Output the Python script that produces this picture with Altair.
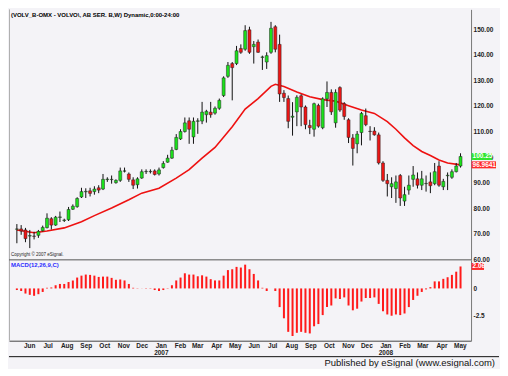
import altair as alt
import pandas as pd

TITLE = "(VOLV_B-OMX - VOLVO\\, AB SER. B,W) Dynamic,0:00-24:00"
COPYRIGHT = "Copyright \u00a9 2007 eSignal."
MACD_LABEL = "MACD(12,26,9,C)"
FOOTER = "Published by eSignal (www.esignal.com)"

first_week = "2006-05-12"

opens = [71.8, 71.9, 71.5, 69.1, 69.1, 69.4, 71.2, 72.4, 75.9, 73.4,
         76.4, 75.2, 75.5, 79.6, 80.6, 84.4, 86.4, 86.8, 86.5, 88.0,
         87.5, 91.2, 91.2, 90.0, 90.9, 94.5, 93.4, 91.1, 89.2, 91.8,
         94.3, 94.3, 94.6, 93.4, 95.9, 98.0, 99.6, 103.0, 107.1, 110.0,
         114.2, 107.9, 114.0, 114.1, 116.6, 117.6, 117.2, 119.1, 124.1, 131.6,
         136.6, 136.6, 142.5, 142.2, 149.8, 143.2, 145.0, 139.0, 137.2, 141.0,
         151.0, 144.1, 125.0, 122.9, 115.6, 117.7, 124.0, 119.6, 112.4, 110.9,
         120.2, 111.5, 122.8, 125.3, 113.4, 127.2, 120.9, 114.6, 107.5, 105.2,
         109.6, 116.2, 110.1, 110.2, 108.7, 97.7, 90.9, 88.4, 87.7, 92.8,
         82.8, 87.1, 91.3, 91.5, 89.0, 89.6, 90.3, 89.6, 96.5, 88.4,
         92.7, 92.1, 94.3, 96.5]
highs = [73.8, 73.4, 72.3, 71.5, 70.8, 71.5, 73.2, 78.0, 76.5, 77.0,
         78.7, 75.9, 80.5, 81.5, 84.3, 88.0, 87.8, 88.0, 88.6, 89.0,
         93.4, 92.1, 92.8, 91.3, 95.9, 95.9, 94.0, 92.1, 92.1, 95.2,
         95.2, 95.2, 95.2, 95.9, 98.4, 100.9, 104.0, 109.0, 110.9, 115.5,
         115.5, 115.5, 115.2, 121.6, 118.5, 121.6, 119.8, 122.9, 131.6, 137.2,
         137.2, 143.5, 144.1, 151.6, 151.0, 145.4, 146.0, 139.7, 141.0, 152.9,
         151.6, 147.9, 126.2, 124.1, 121.5, 124.2, 124.6, 120.2, 114.6, 121.3,
         120.9, 123.4, 129.6, 126.5, 126.5, 127.7, 121.5, 115.2, 109.0, 110.2,
         117.7, 119.0, 112.1, 111.7, 109.6, 98.4, 93.4, 92.1, 92.8, 93.4,
         88.4, 92.8, 96.5, 94.0, 94.6, 92.8, 94.0, 97.7, 98.4, 91.5,
         94.0, 95.2, 97.7, 101.5]
lows = [66.3, 69.6, 66.7, 64.4, 67.8, 68.4, 70.9, 72.1, 71.7, 73.1,
        74.6, 74.6, 75.0, 79.3, 80.2, 84.0, 84.0, 84.6, 85.3, 85.9,
        87.1, 90.3, 89.6, 89.6, 90.3, 94.0, 90.3, 87.5, 87.7, 91.5,
        93.4, 93.6, 92.8, 92.8, 95.5, 97.8, 99.3, 102.7, 106.7, 109.6,
        105.2, 105.2, 109.1, 112.9, 113.5, 115.4, 116.6, 118.5, 123.5, 131.0,
        122.2, 136.0, 140.4, 141.6, 140.4, 136.6, 140.8, 134.1, 134.5, 140.4,
        141.0, 121.6, 121.6, 111.3, 108.4, 112.1, 112.1, 110.9, 109.0, 108.0,
        111.5, 110.9, 119.6, 116.5, 111.5, 117.7, 114.6, 105.5, 96.7, 101.5,
        104.6, 112.1, 106.5, 108.4, 97.1, 90.3, 84.6, 84.0, 82.1, 80.9,
        80.9, 85.3, 88.4, 87.7, 87.1, 86.5, 85.9, 89.0, 88.4, 87.1,
        87.1, 91.5, 94.0, 95.9]
closes = [71.9, 71.1, 68.1, 69.3, 69.0, 70.9, 72.5, 76.1, 73.4, 76.5,
          76.6, 75.4, 79.5, 80.8, 83.8, 86.5, 86.6, 85.8, 87.5, 87.1,
          91.3, 91.4, 91.3, 90.9, 94.6, 94.6, 91.3, 89.0, 91.5, 94.3,
          94.4, 94.4, 93.2, 95.0, 97.5, 99.6, 102.7, 107.7, 110.0, 113.4,
          110.9, 114.0, 114.2, 117.6, 117.9, 116.6, 119.1, 122.2, 131.0, 135.9,
          135.0, 141.6, 141.0, 149.5, 141.0, 144.1, 141.0, 139.2, 139.7, 150.4,
          142.2, 124.7, 123.3, 114.0, 116.0, 123.4, 119.6, 112.7, 111.5, 120.9,
          112.1, 122.8, 125.3, 117.7, 125.3, 118.4, 115.9, 107.7, 103.4, 109.0,
          117.1, 112.7, 110.0, 108.7, 97.7, 90.9, 89.6, 89.6, 90.3, 84.0,
          85.3, 89.0, 93.0, 89.0, 91.5, 89.7, 88.8, 94.3, 89.0, 90.5,
          92.9, 94.3, 96.5, 100.25]
macd = [-0.15, -0.24, -0.48, -0.6, -0.69, -0.54, -0.33, 0.06, 0.09, 0.3,
        0.42, 0.42, 0.6, 0.75, 1.02, 1.2, 1.3, 1.27, 1.2, 1.08,
        1.11, 1.11, 0.99, 0.81, 0.84, 0.75, 0.42, 0.06, 0.02, 0.01,
        -0.03, -0.03, -0.15, -0.24, -0.15, 0.03, 0.3, 0.75, 1.02, 1.42,
        1.3, 1.3, 1.14, 1.23, 1.11, 0.87, 0.75, 0.75, 1.2, 1.72,
        1.8, 2.02, 1.96, 2.23, 1.8, 1.36, 0.75, 0.06, -0.24, 0.0,
        -0.24, -1.75, -2.8, -4.07, -4.46, -4.16, -4.07, -4.16, -4.22, -3.55,
        -3.34, -2.5, -1.75, -1.6, -0.93, -0.99, -0.84, -1.6, -2.05, -1.9,
        -1.23, -0.9, -0.9, -0.84, -1.45, -2.14, -2.44, -2.56, -2.44, -2.5,
        -2.35, -1.75, -1.08, -0.69, -0.33, -0.09, 0.12, 0.66, 0.66, 0.9,
        1.05, 1.27, 1.57, 2.06]

# moving average read at selected weeks (week index, value)
ma_week = [0, 4, 7, 11, 15, 18, 22, 26, 29, 33, 37, 40, 43, 46, 50, 53, 56, 59, 60,
           62, 65, 68, 71, 74, 77, 80, 83, 86, 88, 90, 92, 94, 96, 98, 100, 103]
ma_value = [71.5, 70.4, 71.1, 72.3, 74.7, 77.1, 80.1, 83.3, 85.9, 87.8, 91.8, 95.1,
            99.6, 103.8, 111.9, 118.8, 122.9, 127.7, 128.5, 127.6, 125.5, 123.6,
            122.5, 121.9, 120.1, 118.4, 117.1, 113.9, 110.9, 107.5, 104.5, 102.2,
            100.6, 98.9, 97.7, 96.96]

months = [(2006, m) for m in range(6, 13)] + [(2007, m) for m in range(1, 13)] + [(2008, m) for m in range(1, 6)]
price_ticks = [60, 70, 80, 90, 100, 110, 120, 130, 140, 150]
macd_ticks = [0, -2.5]
last_price = ["100.25"]
last_price_val = [100.25]
last_ma = ["96.9641043"]
last_ma_val = [96.9641043]
last_macd = ["2.06"]
last_macd_val = [2.06]

W = 463
H1 = 251
H2 = 81
BG = "#f4f3f7"
FONT = "Liberation Sans, Arial, sans-serif"
GREEN = "#1be01b"
RED = "#ee1515"

dates = pd.date_range(first_week, periods=len(closes), freq="7D").strftime("%Y-%m-%d").tolist()
df = pd.DataFrame({"date": dates, "open": opens, "high": highs, "low": lows,
                   "close": closes, "macd": macd})
ma_df = pd.DataFrame({"date": [dates[i] for i in ma_week], "ma": ma_value})

xs = alt.Scale(type="utc", domain=[alt.DateTime(year=2006, month=5, date=7, hours=8, utc=True),
                                   alt.DateTime(year=2008, month=5, date=11, utc=True)])
yp = alt.Scale(domain=[59.8, 157.8], nice=False, zero=False)
ym = alt.Scale(domain=[-4.9, 2.68], nice=False, zero=False)

one = pd.DataFrame({"k": [0]})


def paxis():
    return alt.Axis(orient="right", values=price_ticks, format=".2f", title=None,
                    ticks=False, grid=False, domainColor="#777", labelPadding=2,
                    labelFont=FONT, labelFontSize=6.5, labelFontWeight="bold",
                    labelColor="#222", labelFlush=False, labelOverlap=False)


def maxis():
    return alt.Axis(orient="right", values=macd_ticks, labelExpr="'' + datum.value",
                    title=None, ticks=False, grid=False, domainColor="#777", labelPadding=2,
                    labelFont=FONT, labelFontSize=6.5, labelFontWeight="bold",
                    labelColor="#222", labelFlush=False, labelOverlap=False)


wicks = alt.Chart(df).mark_rule(color="#111", strokeWidth=1).encode(
    x=alt.X("date:T", scale=xs, axis=None),
    y=alt.Y("low:Q", scale=yp, axis=paxis()),
    y2="high:Q",
)
bodies = alt.Chart(df).transform_calculate(
    up="datum.close >= datum.open ? 'up' : 'down'"
).mark_bar(width=3, stroke="#222", strokeWidth=0.5).encode(
    x=alt.X("date:T", scale=xs, axis=None),
    y=alt.Y("open:Q", scale=yp, axis=paxis()),
    y2="close:Q",
    color=alt.Color("up:N", scale=alt.Scale(domain=["up", "down"], range=[GREEN, RED]), legend=None),
)
ma_line = alt.Chart(ma_df).mark_line(color="#ee1111", strokeWidth=1.6).encode(
    x=alt.X("date:T", scale=xs, axis=None),
    y=alt.Y("ma:Q", scale=yp, axis=paxis()),
)
title_txt = alt.Chart(pd.DataFrame({"t": [TITLE]})).mark_text(
    align="left", baseline="middle", font=FONT, fontSize=6, fontWeight="bold", color="#000"
).encode(x=alt.value(2), y=alt.value(6), text="t:N")
copy_txt = alt.Chart(pd.DataFrame({"t": [COPYRIGHT]})).mark_text(
    align="left", baseline="middle", font=FONT, fontSize=4.5, color="#222"
).encode(x=alt.value(2), y=alt.value(246), text="t:N")
left_edge1 = alt.Chart(one).mark_rule(color="#b0b0b0").encode(
    x=alt.value(0.5), y=alt.value(0), y2=alt.value(H1))

lp = pd.DataFrame({"v": last_price_val, "t": last_price})
lp_box = alt.Chart(lp).mark_rule(color="#2ee62e", strokeWidth=7).encode(
    x=alt.value(W + 0.5), x2=alt.value(W + 21), y=alt.Y("v:Q", scale=yp, axis=paxis()))
lp_txt = alt.Chart(lp).mark_text(align="left", baseline="middle", font=FONT, fontSize=6.5,
                                 fontWeight="bold", color="#ffffff").encode(
    x=alt.value(W + 1.5), y=alt.Y("v:Q", scale=yp, axis=paxis()), text="t:N")
lm = pd.DataFrame({"v": last_ma_val, "t": last_ma})
lm_box = alt.Chart(lm).mark_rule(color="#ff2a2a", strokeWidth=7).encode(
    x=alt.value(W + 0.5), x2=alt.value(492 - 4), y=alt.Y("v:Q", scale=yp, axis=paxis()))
lm_txt = alt.Chart(lm).mark_text(align="left", baseline="middle", font=FONT, fontSize=6.5,
                                 fontWeight="bold", color="#ffffff", limit=26,
                                 ellipsis="\u200b").encode(
    x=alt.value(W + 1.5), y=alt.Y("v:Q", scale=yp, axis=paxis()), text="t:N")

top = alt.layer(left_edge1, ma_line, wicks, bodies, title_txt, copy_txt,
                lp_box, lp_txt, lm_box, lm_txt).properties(width=W, height=H1)

x_axis = alt.Axis(
    orient="bottom", title=None, ticks=False, grid=False, domainColor="#444",
    values=[alt.DateTime(year=y, month=m, date=1, utc=True) for (y, m) in months],
    labelExpr="utcmonth(datum.value) == 0 ? [utcFormat(datum.value, '%b'), utcFormat(datum.value, '%Y')] : utcFormat(datum.value, '%b')",
    labelFont=FONT, labelFontSize=6.5, labelFontWeight="bold", labelColor="#222",
    labelPadding=2, labelLineHeight=7, labelFlush=False, labelOverlap=False, labelBound=False,
)

macd_bars = alt.Chart(df).mark_bar(width=2, color="#ff1a1a").encode(
    x=alt.X("date:T", scale=xs, axis=x_axis),
    y=alt.Y("macd:Q", scale=ym, axis=maxis()),
    y2=alt.datum(0),
)
macd_txt = alt.Chart(pd.DataFrame({"t": [MACD_LABEL]})).mark_text(
    align="left", baseline="middle", font=FONT, fontSize=6, fontWeight="bold", color="#2b2bff"
).encode(x=alt.value(2), y=alt.value(5), text="t:N")
sep = alt.Chart(one).mark_rule(color="#555", strokeWidth=1).encode(
    x=alt.value(0), x2=alt.value(W), y=alt.value(0))
left_edge2 = alt.Chart(one).mark_rule(color="#b0b0b0").encode(
    x=alt.value(0.5), y=alt.value(0), y2=alt.value(H2))
lmc = pd.DataFrame({"v": last_macd_val, "t": last_macd})
lmc_box = alt.Chart(lmc).mark_rule(color="#ff2a2a", strokeWidth=7).encode(
    x=alt.value(W + 0.5), x2=alt.value(W + 13), y=alt.Y("v:Q", scale=ym, axis=maxis()))
lmc_txt = alt.Chart(lmc).mark_text(align="left", baseline="middle", font=FONT, fontSize=6.5,
                                   fontWeight="bold", color="#ffffff").encode(
    x=alt.value(W + 1.5), y=alt.Y("v:Q", scale=ym, axis=maxis()), text="t:N")
foot_line = alt.Chart(one).mark_rule(color="#111", strokeWidth=1).encode(
    x=alt.value(0), x2=alt.value(491), y=alt.value(97))
foot_txt = alt.Chart(pd.DataFrame({"t": [FOOTER]})).mark_text(
    align="right", baseline="middle", font=FONT, fontSize=9.5, color="#111"
).encode(x=alt.value(487), y=alt.value(103), text="t:N")
foot_pad = alt.Chart(one).mark_rule(color=BG, strokeWidth=1).encode(
    x=alt.value(0), x2=alt.value(490), y=alt.value(108.5))

bottom = alt.layer(left_edge2, macd_bars, sep, macd_txt, lmc_box, lmc_txt,
                   foot_line, foot_txt, foot_pad).properties(width=W, height=H2)

chart = alt.vconcat(top, bottom, spacing=0, bounds="flush").configure(
    padding=0, background=BG
).configure_view(stroke=None)

chart.save("out.html", embed_options={"renderer": "svg", "actions": False})
